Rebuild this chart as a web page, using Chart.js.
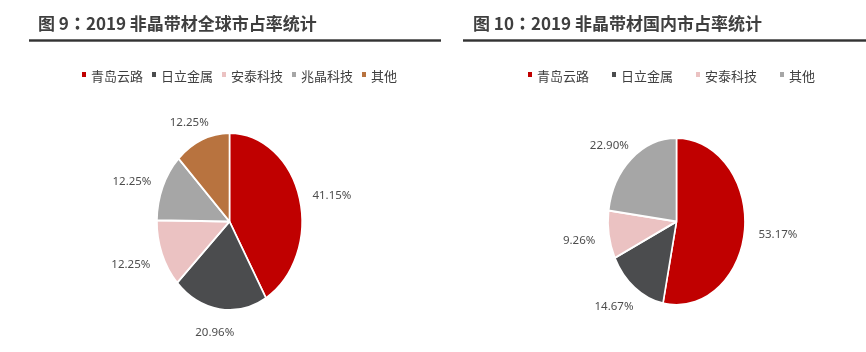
<!DOCTYPE html>
<html>
<head>
<meta charset="utf-8">
<script src="https://cdn.jsdelivr.net/npm/chart.js@4"></script>
<style>
  body { margin: 0; width: 866px; height: 352px; background: #fff; position: relative; overflow: hidden; }
  canvas { position: absolute; top: 0; }
  .title { position: absolute; top: 10px; font: bold 17px "Noto Sans CJK SC", sans-serif; color: #3f3f3f; white-space: nowrap; }
  .title b { font-family: "Noto Sans CJK TC", sans-serif; }
  .rule { position: absolute; top: 39px; height: 3px; background: linear-gradient(#8a8a8a, #333, #8a8a8a); }
  .legend { position: absolute; top: 66px; display: flex; font: 13px "Noto Sans CJK SC", sans-serif; color: #404040; white-space: nowrap; }
  .legend span { display: flex; align-items: center; }
  .legend i { display: inline-block; width: 4px; height: 5px; margin-right: 5px; margin-top: -2px; }
</style>
</head>
<body>
<canvas id="globalChart" width="433" height="352" style="left:0;width:433px;height:352px"></canvas>
<canvas id="domesticChart" width="433" height="352" style="left:433px;width:433px;height:352px"></canvas>

<div class="title" style="left:38px">图 9<b>：</b>2019 非晶带材全球市占率统计</div>
<div class="rule" style="left:29px;width:412px"></div>
<div class="legend" id="globalLegend" style="left:82px"></div>

<div class="title" style="left:473px">图 10<b>：</b>2019 非晶带材国内市占率统计</div>
<div class="rule" style="left:463px;width:403px"></div>
<div class="legend" id="domesticLegend" style="left:528px"></div>

<script>
// 全球市占率
const globalLabels = ['青岛云路', '日立金属', '安泰科技', '兆晶科技', '其他'];
const globalValues = [41.15, 20.96, 12.25, 12.25, 12.25];
const globalColors = ['#C00000', '#4B4C4E', '#EBC2C2', '#A6A6A6', '#B8733F'];

// 国内市占率
const domesticLabels = ['青岛云路', '日立金属', '安泰科技', '其他'];
const domesticValues = [53.17, 14.67, 9.26, 22.90];
const domesticColors = ['#C00000', '#4B4C4E', '#EBC2C2', '#A6A6A6'];

const squeeze = 0.82; // pies in the picture are taller than wide

// squeeze the arcs horizontally, then put the % labels outside each slice
const ovalPie = {
    id: 'ovalPie',
    beforeDatasetsDraw(chart) {
        const a = chart.chartArea;
        const cx = (a.left + a.right) / 2;
        const ctx = chart.ctx;
        ctx.save();
        ctx.translate(cx, 0);
        ctx.scale(squeeze, 1);
        ctx.translate(-cx, 0);
    },
    afterDatasetsDraw(chart) {
        const ctx = chart.ctx;
        ctx.restore();
        const meta = chart.getDatasetMeta(0);
        const values = chart.data.datasets[0].data;
        ctx.save();
        ctx.font = '11.5px "Noto Sans", sans-serif';
        ctx.fillStyle = '#4d4d4d';
        ctx.textAlign = 'center';
        ctx.textBaseline = 'middle';
        meta.data.forEach((arc, i) => {
            const mid = (arc.startAngle + arc.endAngle) / 2;
            const r = arc.outerRadius;
            const text = values[i].toFixed(2) + '%';
            const hw = ctx.measureText(text).width / 2;
            const gap = 14;
            const dx = Math.cos(mid), dy = Math.sin(mid);
            const x = arc.x + dx * (r * squeeze + hw + gap);
            const y = arc.y + dy * (r + 7 + gap) + 3;
            ctx.fillText(text, x, y);
        });
        ctx.restore();
    }
};

function makePie(id, labels, values, colors, radius, padLeft) {
    return new Chart(document.getElementById(id), {
        type: 'pie',
        data: {
            labels: labels,
            datasets: [{
                data: values,
                backgroundColor: colors,
                borderColor: '#ffffff',
                borderWidth: 2
            }]
        },
        options: {
            responsive: false,
            animation: false,
            radius: radius,
            layout: { padding: { left: padLeft, top: 91, right: 0, bottom: 0 } },
            plugins: { legend: { display: false }, tooltip: { enabled: false } }
        },
        plugins: [ovalPie]
    });
}

makePie('globalChart', globalLabels, globalValues, globalColors, 88.5, 26);
makePie('domesticChart', domesticLabels, domesticValues, domesticColors, 83.5, 54);

function makeLegend(id, labels, colors, spacing) {
    const box = document.getElementById(id);
    labels.forEach((name, i) => {
        const item = document.createElement('span');
        item.style.marginRight = spacing + 'px';
        item.innerHTML = '<i style="background:' + colors[i] + '"></i>' + name;
        box.appendChild(item);
    });
}

makeLegend('globalLegend', globalLabels, globalColors, 9);
makeLegend('domesticLegend', domesticLabels, domesticColors, 23);
</script>
</body>
</html>
